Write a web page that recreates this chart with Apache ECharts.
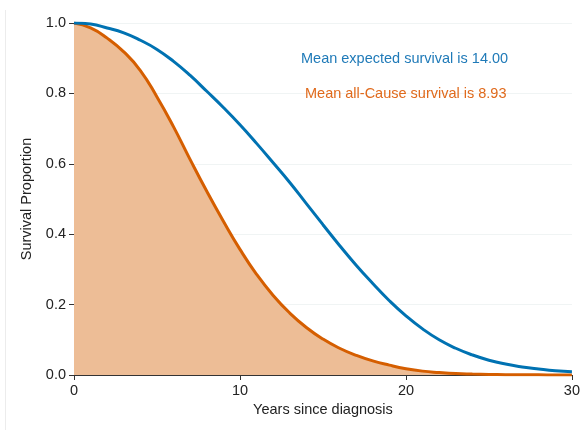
<!DOCTYPE html>
<html>
<head>
<meta charset="utf-8">
<script src="https://cdn.jsdelivr.net/npm/echarts@6/dist/echarts.min.js"></script>
<style>html,body{margin:0;padding:0;background:#fff}#c{width:583px;height:430px}</style>
</head>
<body>
<div id="c"></div>
<script>
var years = [0,1,2,3,4,5,6,7,8,9,10,11,12,13,14,15,16,17,18,19,20,21,22,23,24,25,26,27,28,29,30];
var expectedSurv = [1,0.997,0.986,0.972,0.951,0.925,0.891,0.851,0.806,0.76,0.711,0.658,0.603,0.547,0.487,0.427,0.368,0.312,0.26,0.211,0.168,0.131,0.1,0.076,0.057,0.042,0.031,0.023,0.017,0.012,0.009];
var allCauseSurv = [1,0.986,0.957,0.918,0.865,0.79,0.705,0.612,0.522,0.437,0.357,0.286,0.226,0.176,0.135,0.102,0.076,0.056,0.04,0.028,0.018,0.011,0.007,0.004,0.0025,0.0015,0.001,0.0006,0.0004,0.0002,0.0001];
var xTicks = [0,10,20,30];
var yTicks = [0,0.2,0.4,0.6,0.8,1.0];
var annotations = ["Mean expected survival is 14.00","Mean all-Cause survival is 8.93"];

function pairs(xs, ys){ return xs.map(function(x,i){return [x, ys[i]];}); }

var chart = echarts.init(document.getElementById('c'), null, {renderer:'canvas'});
var font = '"Liberation Sans", Arial, Helvetica, sans-serif';
chart.setOption({
  animation:false,
  backgroundColor:'#fff',
  grid:{left:74,right:11,top:23,bottom:55,containLabel:false},
  xAxis:{type:'value',min:xTicks[0],max:xTicks[xTicks.length-1],interval:10,
    name:'Years since diagnosis',nameLocation:'middle',nameGap:25,
    nameTextStyle:{fontFamily:font,fontSize:14.5,color:'#222'},
    axisLine:{show:true,onZero:false,lineStyle:{color:'#333',width:1}},
    axisTick:{show:true,length:5,lineStyle:{color:'#333'}},
    axisLabel:{fontFamily:font,fontSize:14.5,color:'#222',margin:8},
    splitLine:{show:false}},
  yAxis:{type:'value',min:yTicks[0],max:yTicks[yTicks.length-1],interval:0.2,
    name:'Survival Proportion',nameLocation:'middle',nameGap:35,
    nameTextStyle:{fontFamily:font,fontSize:14.5,color:'#222'},
    axisLine:{show:true,onZero:false,lineStyle:{color:'#333',width:1}},
    axisTick:{show:true,length:5,lineStyle:{color:'#333'}},
    axisLabel:{fontFamily:font,fontSize:14.5,color:'#222',margin:8,formatter:function(v){return v.toFixed(1);}},
    splitLine:{show:true,lineStyle:{color:'#f0f4f4',width:1}}},
  series:[
    {type:'line',data:pairs(years,allCauseSurv),smooth:0.5,showSymbol:false,
     lineStyle:{color:'#d55e00',width:3},areaStyle:{color:'#edbd96',opacity:1,origin:'start'},z:2},
    {type:'line',data:pairs(years,expectedSurv),smooth:0.5,showSymbol:false,
     lineStyle:{color:'#0072b2',width:3},z:3}
  ],
  graphic:[
    {type:'line',shape:{x1:5.5,y1:10,x2:5.5,y2:430},style:{stroke:'#ececec',lineWidth:1},silent:true},
    {type:'text',left:301,top:51,z:100,style:{text:annotations[0],fill:'#1f7ab8',font:'14.5px '+font}},
    {type:'text',left:305,top:86,z:100,style:{text:annotations[1],fill:'#e06a1c',font:'14.5px '+font}}
  ]
});
</script>
</body>
</html>
